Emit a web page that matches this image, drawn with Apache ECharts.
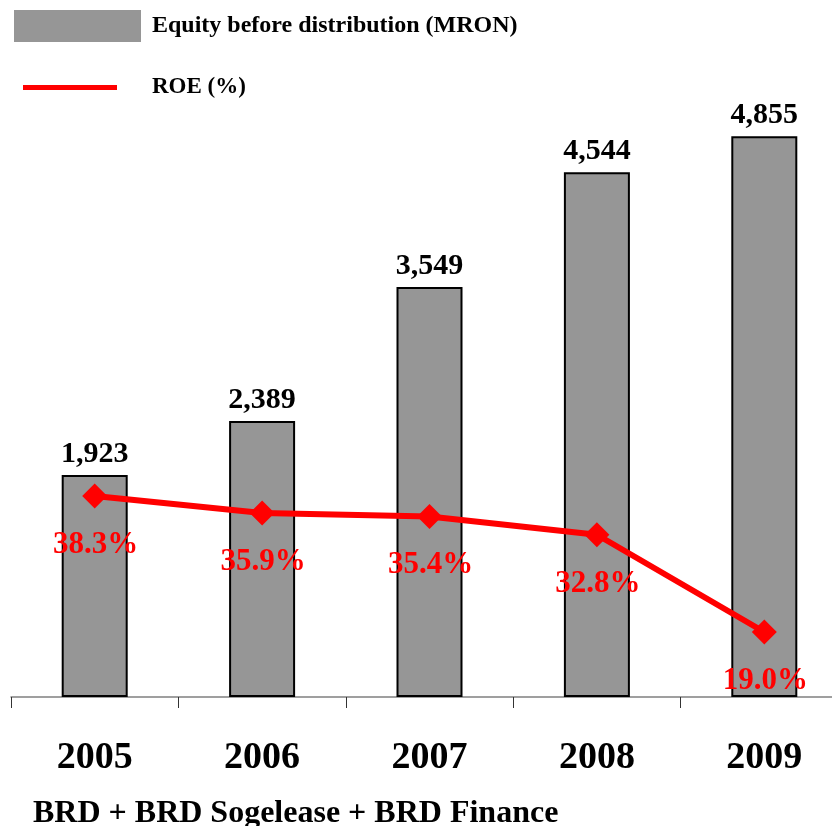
<!DOCTYPE html>
<html>
<head>
<meta charset="utf-8">
<script src="https://cdn.jsdelivr.net/npm/echarts@6/dist/echarts.min.js"></script>
<style>html,body{margin:0;padding:0;background:#fff;}#c{width:832px;height:826px;}</style>
</head>
<body>
<div id="c"></div>
<script>
var years = ['2005', '2006', '2007', '2008', '2009'];
var equity = [1923, 2389, 3549, 4544, 4855];
var roe = [38.3, 35.9, 35.4, 32.8, 19.0];
var equityName = 'Equity before distribution (MRON)';
var roeName = 'ROE (%)';
var footer = 'BRD + BRD Sogelease + BRD Finance';

var serif = '"Liberation Serif", "Times New Roman", serif';
var chart = echarts.init(document.getElementById('c'));
chart.setOption({
  animation: false,
  backgroundColor: '#ffffff',
  title: {
    text: footer, left: 33, top: 798, padding: 0,
    textStyle: { fontFamily: serif, fontWeight: 'bold', fontSize: 32, color: '#000' }
  },
  legend: [{
    data: [{ name: equityName, icon: 'rect', itemStyle: { borderWidth: 0, color: '#969696' } }],
    left: 14, top: 10, padding: 0, itemWidth: 127, itemHeight: 32, selectedMode: false,
    textStyle: { fontFamily: serif, fontWeight: 'bold', fontSize: 24, color: '#000', padding: [0, 0, 0, 6] }
  }, {
    data: [{ name: roeName, icon: 'rect', itemStyle: { color: '#ff0000' } }],
    left: 23, top: 76, padding: 0, itemWidth: 94, itemHeight: 5, selectedMode: false,
    textStyle: { fontFamily: serif, fontWeight: 'bold', fontSize: 23, color: '#000', padding: [0, 0, 0, 30] }
  }],
  grid: { left: 11, width: 837, top: 4, bottom: 129, containLabel: false, outerBoundsMode: 'none' },
  xAxis: {
    type: 'category', data: years, boundaryGap: true,
    axisLine: { lineStyle: { color: '#808080', width: 1.5 } },
    axisTick: { show: true, length: 11, lineStyle: { color: '#333', width: 1 } },
    axisLabel: { fontFamily: serif, fontWeight: 'bold', fontSize: 38, color: '#000', margin: 42 },
    splitLine: { show: false }
  },
  yAxis: [{
    type: 'value', min: 0, max: 6000, show: false, splitLine: { show: false }
  }, {
    type: 'value', min: 9.78, max: 108.1, show: false, splitLine: { show: false }
  }],
  series: [{
    name: equityName, type: 'bar', data: equity, barWidth: 66, yAxisIndex: 0,
    itemStyle: { color: '#969696', borderColor: '#000', borderWidth: 2 },
    label: {
      show: true, position: 'top', distance: 6,
      fontFamily: serif, fontWeight: 'bold', fontSize: 30, color: '#000',
      formatter: function (p) { return p.value.toLocaleString('en-US'); }
    },
    z: 2
  }, {
    name: roeName, type: 'line', data: roe, yAxisIndex: 1,
    symbol: 'diamond', symbolSize: [25, 25],
    lineStyle: { color: '#ff0000', width: 6 },
    itemStyle: { color: '#ff0000' },
    label: {
      show: true, position: 'inside', offset: [1, 49],
      fontFamily: serif, fontWeight: 'bold', fontSize: 31, color: '#ff0000',
      formatter: function (p) { return p.value.toFixed(1) + '%'; }
    },
    z: 3
  }]
});
</script>
</body>
</html>
